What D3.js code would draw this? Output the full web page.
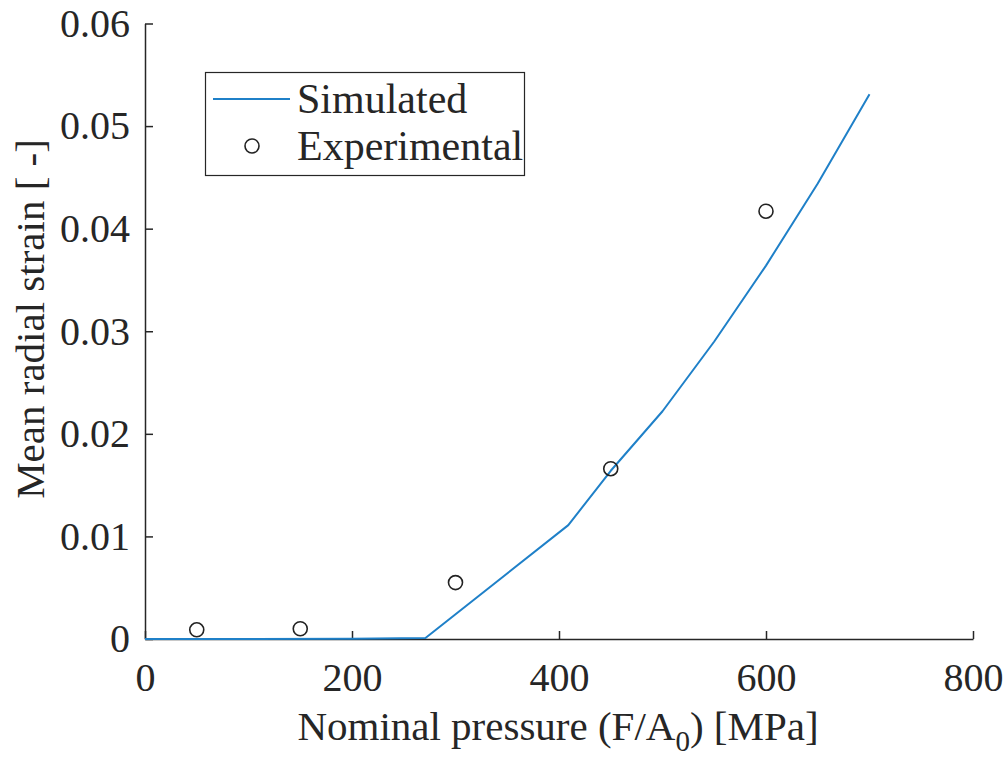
<!DOCTYPE html>
<html>
<head>
<meta charset="utf-8">
<script src="https://cdn.jsdelivr.net/npm/d3@7"></script>
<style>
  body { margin: 0; background: #fff; }
  svg text { font-family: "Liberation Serif", "Times New Roman", Times, "DejaVu Serif", serif; fill: #262626; }
</style>
</head>
<body>
<div id="chart"></div>
<script>
// simulated curve (pressure in MPa, strain)
const simPressure = [0, 100, 200, 271, 409, 450, 500, 550, 600, 650, 700]
const simStrain = [0, 0, 0.00003, 0.0001, 0.0111, 0.0164, 0.0222, 0.0290, 0.0364, 0.0444, 0.0531]

// experimental points
const expPressure = [50, 150, 300, 450, 600]
const expStrain = [0.0009, 0.001, 0.0055, 0.0166, 0.0417]

const xTicks = [0, 200, 400, 600, 800]
const yTicks = [0, 0.01, 0.02, 0.03, 0.04, 0.05, 0.06]
const legendLabels = ["Simulated", "Experimental"]

const width = 1007
const height = 758
const margins = { top: 23.5, right: 34, bottom: 119, left: 145 }
const tickFont = 40
const labelFont = 41
const legendFont = 42
const serif = '"Liberation Serif", "Times New Roman", Times, "DejaVu Serif", serif'
const axisColor = "#262626"
const lineColor = "#1f80c8"

const svg = d3.select("#chart")
    .append("svg")
    .attr("width", width)
    .attr("height", height)

const x = d3.scaleLinear()
    .domain([0, 800])
    .range([margins.left, width - margins.right])
const y = d3.scaleLinear()
    .domain([0, 0.06])
    .range([height - margins.bottom, margins.top])

// axes, ticks pointing inward like matlab
const xAxis = svg.append("g")
    .attr("transform", `translate(0,${height - margins.bottom})`)
    .call(d3.axisBottom(x).tickValues(xTicks).tickSizeInner(-8).tickSizeOuter(0).tickPadding(24).tickFormat(d3.format("d")))
const yAxis = svg.append("g")
    .attr("transform", `translate(${margins.left},0)`)
    .call(d3.axisLeft(y).tickValues(yTicks).tickSizeInner(-8).tickSizeOuter(0).tickPadding(15).tickFormat(d => d === 0 ? "0" : d3.format(".2f")(d)))

for (const g of [xAxis, yAxis]) {
    g.attr("font-family", null).attr("font-size", null)
    g.select(".domain").attr("stroke", axisColor).attr("stroke-width", 1.5)
    g.selectAll(".tick line").attr("stroke", axisColor).attr("stroke-width", 1.5)
    g.selectAll(".tick text")
        .style("font-family", serif)
        .style("font-size", tickFont + "px")
        .attr("fill", axisColor)
}
xAxis.selectAll(".tick text").attr("dy", "0.71em")

// simulated line
const simData = simPressure.map((p, i) => ({ x: p, y: simStrain[i] }))
const line = d3.line()
    .x(d => x(d.x))
    .y(d => y(d.y))
svg.append("path")
    .datum(simData)
    .attr("fill", "none")
    .attr("stroke", lineColor)
    .attr("stroke-width", 2)
    .attr("stroke-linejoin", "round")
    .attr("d", line)

// experimental markers
svg.selectAll(".exp-point")
    .data(expPressure.map((p, i) => ({ x: p, y: expStrain[i] })))
    .enter()
    .append("circle")
    .attr("class", "exp-point")
    .attr("cx", d => x(d.x))
    .attr("cy", d => y(d.y))
    .attr("r", 7)
    .attr("fill", "none")
    .attr("stroke", "#222")
    .attr("stroke-width", 1.6)

// axis labels
svg.append("text")
    .attr("transform", "translate(44,319) rotate(-90)")
    .attr("text-anchor", "middle")
    .style("font-family", serif)
    .style("font-size", labelFont + "px")
    .text("Mean radial strain [ -]")

const xLabel = svg.append("text")
    .attr("x", 558)
    .attr("y", 740)
    .attr("text-anchor", "middle")
    .style("font-family", serif)
    .style("font-size", labelFont + "px")
xLabel.append("tspan").text("Nominal pressure (F/A")
xLabel.append("tspan").attr("dy", 11).style("font-size", "29px").text("0")
xLabel.append("tspan").attr("dy", -11).text(") [MPa]")

// legend
const legend = svg.append("g")
legend.append("rect")
    .attr("x", 205.5)
    .attr("y", 72.5)
    .attr("width", 319)
    .attr("height", 103)
    .attr("fill", "#fff")
    .attr("stroke", axisColor)
    .attr("stroke-width", 1.2)
legend.append("line")
    .attr("x1", 213)
    .attr("x2", 290)
    .attr("y1", 99)
    .attr("y2", 99)
    .attr("stroke", lineColor)
    .attr("stroke-width", 2)
legend.append("circle")
    .attr("cx", 252)
    .attr("cy", 146)
    .attr("r", 7)
    .attr("fill", "none")
    .attr("stroke", "#222")
    .attr("stroke-width", 1.6)
legend.selectAll(".legend-text")
    .data(legendLabels)
    .enter()
    .append("text")
    .attr("class", "legend-text")
    .attr("x", 297)
    .attr("y", (d, i) => 113 + i * 47)
    .style("font-family", serif)
    .style("font-size", legendFont + "px")
    .text(d => d)
</script>
</body>
</html>
